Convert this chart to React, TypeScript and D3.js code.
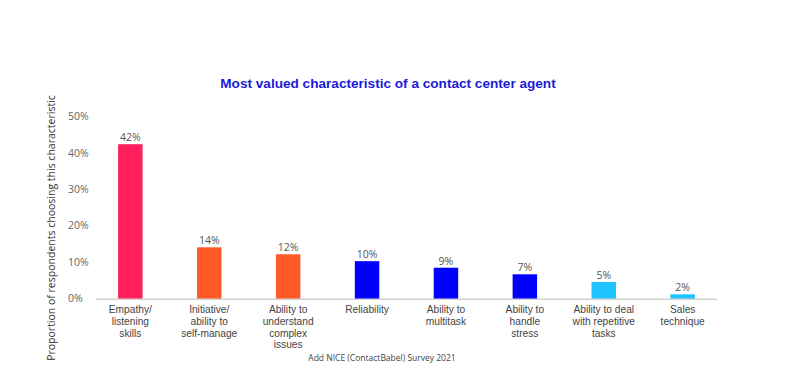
import React from "react";
import * as d3 from "d3";

const categories: string[][] = [
  ["Empathy/", "listening", "skills"],
  ["Initiative/", "ability to", "self-manage"],
  ["Ability to", "understand", "complex", "issues"],
  ["Reliability"],
  ["Ability to", "multitask"],
  ["Ability to", "handle", "stress"],
  ["Ability to deal", "with repetitive", "tasks"],
  ["Sales", "technique"],
];
const values: number[] = [42.4, 14.1, 12.2, 10.3, 8.5, 6.7, 4.6, 1.2];
const valueLabels: string[] = ["42%", "14%", "12%", "10%", "9%", "7%", "5%", "2%"];
const barColors: string[] = ["#ff1f5c", "#ff5a28", "#ff5a28", "#0000ff", "#0000ff", "#0000ff", "#1ec3ff", "#1ec3ff"];
const yTicks: number[] = [0, 10, 20, 30, 40, 50];
const title = "Most valued characteristic of a contact center agent";
const yTitle = "Proportion of respondents choosing this characteristic";
const source = "Add NICE (ContactBabel) Survey 2021";

const W = 800;
const H = 368;
const left = 96;
const right = 717;
const baseY = 298.7;
const topY = 116.5;
const font = "'Open Sans', 'Noto Sans', sans-serif";
const catFont = "'Liberation Sans', Arial, sans-serif";

export default function App() {
  const idx = categories.map((_, i) => String(i));
  const x = d3.scaleBand<string>().domain(idx).range([left, right]).paddingInner(0.69).paddingOuter(0.28);
  const y = d3.scaleLinear().domain([0, 50]).range([baseY, topY]);
  return (
    <svg width={W} height={H} style={{ position: "absolute", left: 0, top: 0, display: "block", background: "#fff" }}>
      <text x={388} y={88} textAnchor="middle" fontFamily="'Liberation Sans', Arial, sans-serif" fontWeight="bold" fontSize={13.6} fill="#1a1ad9">
        {title}
      </text>
      <text transform={`translate(55,${(110 + 346) / 2}) rotate(-90)`} textAnchor="middle" fontFamily={font} fontSize={10.5} fill="#333">
        {yTitle}
      </text>
      {yTicks.map((t) => (
        <text key={t} x={68} y={y(t)} dy="0.35em" fontFamily={font} fontSize={10.5} fill="#666">
          {t}%
        </text>
      ))}
      {values.map((v, i) => {
        const cx = x(String(i))! + x.bandwidth() / 2;
        return (
          <g key={i}>
            <rect x={x(String(i))!} y={y(v)} width={x.bandwidth()} height={baseY - y(v)} fill={barColors[i]} />
            <text x={cx} y={y(v) - 3} textAnchor="middle" fontFamily={font} fontSize={10.5} fill="#555">
              {valueLabels[i]}
            </text>
            {categories[i].map((line, j) => (
              <text key={j} x={cx} y={313 + j * 11.8} textAnchor="middle" fontFamily={catFont} fontSize={10.2} fill="#444">
                {line}
              </text>
            ))}
          </g>
        );
      })}
      <line x1={left} x2={right} y1={baseY + 0.5} y2={baseY + 0.5} stroke="#bbb" strokeWidth={1} />
      <text x={382} y={361} textAnchor="middle" fontFamily={font} fontSize={8.5} fill="#444">
        {source}
      </text>
    </svg>
  );
}
